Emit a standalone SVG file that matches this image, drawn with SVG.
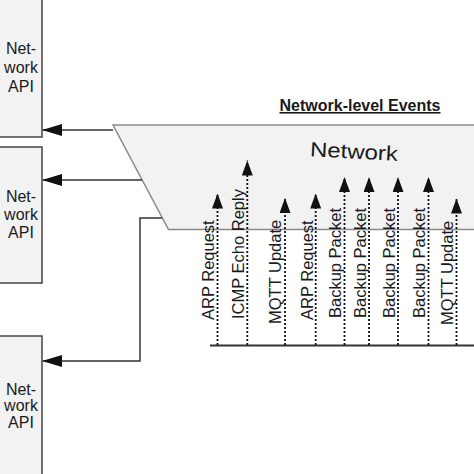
<svg xmlns="http://www.w3.org/2000/svg" width="474" height="474" viewBox="0 0 474 474">
<defs>
<style>
.box{fill:#f2f2f2;stroke:#444;stroke-width:1.5}
.lbl{font-family:"Liberation Sans",Arial,sans-serif;font-size:16px;fill:#1a1a1a}
.evl{font-size:16.5px}
.conn{fill:none;stroke:#333;stroke-width:1.5}
.ev{fill:none;stroke:#111;stroke-width:1.8;stroke-dasharray:2 2}
</style>
<marker id="ah" viewBox="0 0 20 12" refX="19" refY="6" markerWidth="20" markerHeight="12" markerUnits="userSpaceOnUse" orient="auto">
<path d="M0,0 L20,6 L0,12 Z" fill="#111"/>
</marker>
<marker id="up" viewBox="0 0 15 11" refX="15" refY="5.5" markerWidth="15" markerHeight="11" markerUnits="userSpaceOnUse" orient="auto">
<path d="M0,0 L15,5.5 L0,11 Z" fill="#111"/>
</marker>
</defs>
<rect width="474" height="474" fill="#fff"/>
<g id="api1">
<rect class="box" x="-1" y="-1" width="43" height="138"/>
<text class="lbl" text-anchor="middle" x="21" y="54">Net-</text>
<text class="lbl" text-anchor="middle" x="21" y="73">work</text>
<text class="lbl" text-anchor="middle" x="21" y="92">API</text>
</g>
<g id="api2">
<rect class="box" x="-1" y="147" width="43" height="136"/>
<text class="lbl" text-anchor="middle" x="21" y="202">Net-</text>
<text class="lbl" text-anchor="middle" x="21" y="220">work</text>
<text class="lbl" text-anchor="middle" x="21" y="238">API</text>
</g>
<g id="api3">
<rect class="box" x="-1" y="336" width="43" height="140"/>
<text class="lbl" text-anchor="middle" x="21" y="395">Net-</text>
<text class="lbl" text-anchor="middle" x="21" y="411">work</text>
<text class="lbl" text-anchor="middle" x="21" y="428">API</text>
</g>
<g id="network">
<path d="M476,125 L113,125 L168.5,229.5 L476,229.5" fill="#f2f2f2" stroke="#8a8a8a" stroke-width="1.5"/>
<text class="lbl" text-anchor="middle" x="354" y="158.5" textLength="88" lengthAdjust="spacingAndGlyphs" transform="rotate(3 354 151)" style="font-size:20.5px">Network</text>
</g>
<g id="title">
<text class="lbl" text-anchor="middle" x="360" y="111" text-decoration="underline" style="font-weight:bold">Network-level Events</text>
</g>
<g id="connectors">
<path class="conn" d="M113,130 L43,130" marker-end="url(#ah)"/>
<path class="conn" d="M142,180 L43,180" marker-end="url(#ah)"/>
<path class="conn" d="M162,218 L140,218 L140,361 L43,361" marker-end="url(#ah)"/>
</g>
<g id="timeline">
<line x1="210" y1="345.5" x2="476" y2="345.5" stroke="#333" stroke-width="2"/>
<path class="ev" d="M217.5,345 L217.5,193.5" marker-end="url(#up)"/>
<path class="ev" d="M247.3,345 L247.3,160.5" marker-end="url(#up)"/>
<path class="ev" d="M285,345 L285,198" marker-end="url(#up)"/>
<path class="ev" d="M315.7,345 L315.7,193.5" marker-end="url(#up)"/>
<path class="ev" d="M344.5,345 L344.5,177" marker-end="url(#up)"/>
<path class="ev" d="M369,345 L369,177" marker-end="url(#up)"/>
<path class="ev" d="M398,345 L398,177" marker-end="url(#up)"/>
<path class="ev" d="M428.5,345 L428.5,177" marker-end="url(#up)"/>
<path class="ev" d="M456.5,345 L456.5,198.5" marker-end="url(#up)"/>
<text class="lbl evl" transform="translate(214,320) rotate(-90)">ARP Request</text>
<text class="lbl evl" transform="translate(243.5,319) rotate(-90)">ICMP Echo Reply</text>
<text class="lbl evl" transform="translate(281,324) rotate(-90)">MQTT Update</text>
<text class="lbl evl" transform="translate(313,320) rotate(-90)">ARP Request</text>
<text class="lbl evl" transform="translate(340.5,318) rotate(-90)">Backup Packet</text>
<text class="lbl evl" transform="translate(365.5,318) rotate(-90)">Backup Packet</text>
<text class="lbl evl" transform="translate(394.5,318) rotate(-90)">Backup Packet</text>
<text class="lbl evl" transform="translate(424.5,318) rotate(-90)">Backup Packet</text>
<text class="lbl evl" transform="translate(452.5,325) rotate(-90)">MQTT Update</text>
</g>
</svg>
